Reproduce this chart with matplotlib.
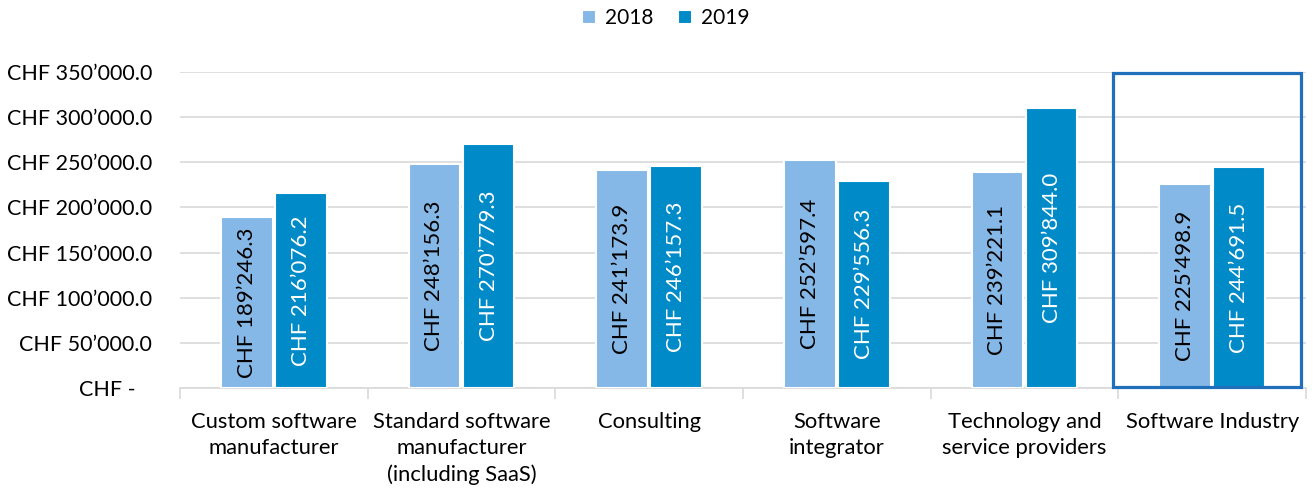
import matplotlib
matplotlib.use("Agg")
import matplotlib.pyplot as plt
import numpy as np
from matplotlib.patches import Rectangle

categories = ["Custom software\nmanufacturer", "Standard software\nmanufacturer\n(including SaaS)",
              "Consulting", "Software\nintegrator", "Technology and\nservice providers", "Software Industry"]
values_2018 = [189246.3, 248156.3, 241173.9, 252597.4, 239221.1, 225498.9]
values_2019 = [216076.2, 270779.3, 246157.3, 229556.3, 309844.0, 244691.5]
yticks = [0, 50000, 100000, 150000, 200000, 250000, 300000, 350000]

plt.rcParams['font.family'] = ['Lato', 'DejaVu Sans']

c18 = "#85B8E6"
c19 = "#008BC8"

def fmt(v):
    s = f"{v:,.1f}".replace(",", "\u2019")
    return "CHF " + s

fig = plt.figure(figsize=(13.14, 4.93), dpi=100)
ax = fig.add_axes([180/1314, 1-388/493, (1306-180)/1314, (388-72)/493])

x = np.arange(len(categories))
w = 0.275
off = 0.144
b1 = ax.bar(x - off, values_2018, w, color=c18, edgecolor="white", linewidth=1.5, label="2018", zorder=3)
b2 = ax.bar(x + off, values_2019, w, color=c19, edgecolor="white", linewidth=1.5, label="2019", zorder=3)

for rect, v in zip(b1, values_2018):
    ax.text(rect.get_x() + rect.get_width()/2, v/2, fmt(v), rotation=90, ha="center", va="center",
            fontsize=16, color="black", zorder=4)
for rect, v in zip(b2, values_2019):
    ax.text(rect.get_x() + rect.get_width()/2, v/2, fmt(v), rotation=90, ha="center", va="center",
            fontsize=16, color="white", zorder=4)

ax.set_xlim(-0.5, len(categories) - 0.5)
ax.set_ylim(0, 350000)
ax.set_yticks(yticks)
ax.set_yticklabels(["CHF -   "] + [fmt(v) for v in yticks[1:]], fontsize=15.5)
ax.yaxis.grid(True, color="#D9D9D9", linewidth=1.2, zorder=0)
ax.set_axisbelow(True)
ax.tick_params(axis="y", length=0, pad=20)

ax.set_xticks(x)
ax.set_xticklabels(categories, fontsize=15.8, linespacing=1.4)
ax.set_xticks(np.arange(-0.5, len(categories)), minor=True)
ax.tick_params(axis="x", which="major", length=0, pad=17)
ax.tick_params(axis="x", which="minor", length=8, color="#D9D9D9", width=1.2)

for s in ["top", "right", "left"]:
    ax.spines[s].set_visible(False)
ax.spines["bottom"].set_color("#D9D9D9")
ax.spines["bottom"].set_linewidth(1.2)

rect = Rectangle((4.473, 600), 1.0, 347800, fill=False, edgecolor="#1F6FBA",
                 linewidth=2.3, clip_on=False, zorder=5)
ax.add_patch(rect)

fig.legend(handles=[b1, b2], labels=["2018", "2019"], loc="center", bbox_to_anchor=(666/1314, 1-18/493),
           ncol=2, frameon=False, fontsize=15, handlelength=0.65, handleheight=0.65,
           handletextpad=0.45, columnspacing=1.2)

fig.savefig("out.png", dpi=100)
